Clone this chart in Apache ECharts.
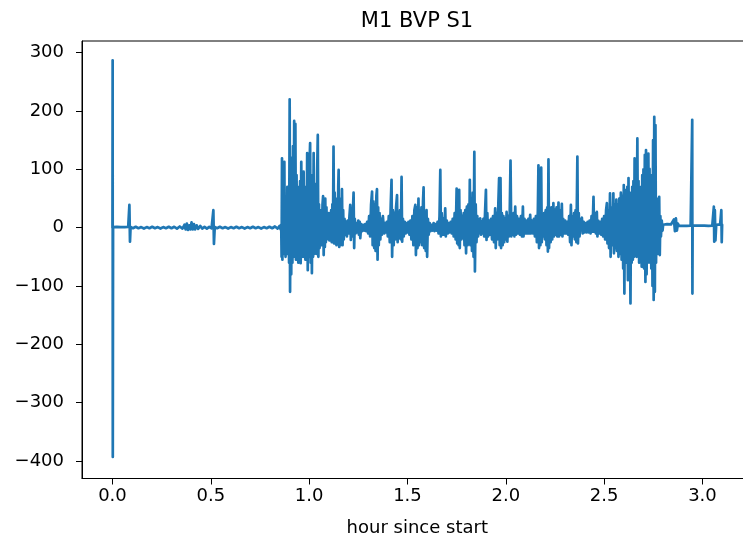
<!DOCTYPE html>
<html>
<head>
<meta charset="utf-8">
<script src="https://cdn.jsdelivr.net/npm/echarts@6/dist/echarts.min.js"></script>
<style>
html,body{margin:0;padding:0;background:#fff;overflow:hidden;}
#chart{width:743px;height:539px;}
</style>
</head>
<body>
<div id="chart"></div>
<script>
// [hour since start, BVP value]
const segStart = [
[0.000,0],[0.0008,287],[0.0016,-393],[0.003,1],[0.012,-1],[0.022,1.5],[0.032,-1],[0.042,1],[0.052,-1.5],[0.062,1],[0.072,-1],[0.080,1.5],[0.086,39],[0.089,-24],[0.092,1],[0.104,-1],[0.118,1.5],[0.132,-1],[0.146,1],[0.160,-1.5],[0.174,1],[0.188,-1],[0.202,1.5],[0.216,-1],[0.230,1],[0.244,-1.5],[0.258,1],[0.272,-1],[0.286,1.5],[0.300,-1],[0.314,1.5],[0.328,-1.5],[0.342,2],[0.356,-1.5],[0.366,5],[0.372,-3],[0.378,7],[0.384,-4],[0.390,4],[0.396,-3],[0.402,9],[0.408,-3],[0.414,6],[0.420,-3],[0.428,4],[0.436,-2],[0.446,3],[0.456,-1.5],[0.468,1.5],[0.480,-1.5],[0.492,1.5],[0.504,-1],[0.513,30],[0.516,-28],[0.520,1],[0.532,-1],[0.546,1.5],[0.560,-1],[0.574,1],[0.588,-1.5],[0.602,1],[0.616,-1],[0.630,1.5],[0.644,-1],[0.658,1],[0.672,-1.5],[0.686,1],[0.700,-1],[0.714,1.5],[0.728,-1],[0.742,1],[0.756,-1.5],[0.770,1],[0.784,-1],[0.798,1.5],[0.812,-1],[0.826,2],[0.840,-1.5],[0.850,3],[0.855,-3]
];
const burstA = [
[0.858,5],[0.860,-50],[0.862,119],[0.864,-55],[0.866,60],[0.868,-40],[0.870,80],[0.872,-45],[0.874,113],[0.876,-35],[0.878,50],[0.880,-50],[0.883,40],[0.886,-38],[0.889,70],[0.892,-45],[0.895,55],[0.898,-60],[0.901,220],[0.903,-110],[0.906,120],[0.909,-80],[0.912,100],[0.915,-60],[0.918,140],[0.921,-50],[0.924,183],[0.927,-45],[0.930,178],[0.933,-55],[0.936,90],[0.939,-40],[0.942,70],[0.945,-60],[0.948,55],[0.951,-40],[0.954,80],[0.957,-61],[0.960,113],[0.963,-45],[0.966,60],[0.969,-50],[0.972,96],[0.975,-40],[0.978,70],[0.981,-55],[0.984,60],[0.987,-45],[0.990,128],[0.993,-73],[0.996,80],[0.999,-50],[1.002,110],[1.005,145],[1.008,-60],[1.011,90],[1.014,-78],[1.017,70],[1.020,-50],[1.023,128],[1.026,-45],[1.029,60],[1.032,-40],[1.035,75],[1.038,-45],[1.041,100],[1.044,159],[1.047,-50],[1.050,40],[1.053,-35],[1.056,20],[1.059,-25],[1.062,30],[1.065,-30],[1.068,40],[1.071,54],[1.074,-47],[1.077,30],[1.080,-33],[1.082,50],[1.085,-25],[1.088,35],[1.091,-20],[1.094,15],[1.097,-18],[1.100,25],[1.103,-22],[1.106,20],[1.109,-20],[1.112,30],[1.115,-25],[1.118,40],[1.121,-20],[1.124,139],[1.127,-27],[1.130,60],[1.133,-25],[1.136,45],[1.139,-30],[1.142,50],[1.145,-28],[1.148,70],[1.150,99],[1.153,-33],[1.156,50],[1.159,-30],[1.162,40],[1.165,-25],[1.167,66],[1.170,-30],[1.173,30],[1.176,-20],[1.180,15],[1.184,-12],[1.188,10],[1.192,-15],[1.196,12],[1.200,-10],[1.205,20],[1.209,39],[1.212,-21],[1.215,15],[1.218,-15],[1.222,25],[1.226,60],[1.229,-35],[1.232,15],[1.236,-10],[1.240,8],[1.245,-8],[1.250,12],[1.253,-12],[1.257,10],[1.260,-18],[1.265,6],[1.270,-6],[1.275,5],[1.280,-5],[1.285,6],[1.290,-6],[1.295,10],[1.300,-10],[1.305,20],[1.310,-15],[1.315,40],[1.320,62],[1.323,-30],[1.327,45],[1.331,-35],[1.335,40],[1.338,-40],[1.342,55],[1.345,66],[1.348,-55],[1.351,35],[1.354,-30],[1.358,25],[1.362,-20],[1.366,15],[1.370,-12],[1.375,20],[1.379,22],[1.382,-10],[1.386,8],[1.390,-8]
];
const midA = [
[1.395,10],[1.400,-15],[1.405,20],[1.410,-25],[1.415,40],[1.419,82],[1.422,-50],[1.426,30],[1.430,-30],[1.434,25],[1.438,-20],[1.442,35],[1.447,56],[1.450,-25],[1.454,20],[1.458,-18],[1.462,30],[1.466,-20],[1.470,87],[1.473,-24],[1.477,15],[1.481,-15],[1.486,10],[1.490,-10],[1.495,8],[1.500,-8],[1.505,10],[1.510,-12],[1.515,12],[1.520,-20],[1.525,20],[1.530,-30],[1.535,30],[1.540,39],[1.543,-47],[1.547,35],[1.551,-35],[1.556,50],[1.559,-30],[1.563,30],[1.567,-25],[1.571,35],[1.575,-30],[1.579,45],[1.582,69],[1.585,-35],[1.589,25],[1.593,-40],[1.597,30],[1.600,-50],[1.604,15],[1.608,-12],[1.613,8],[1.618,-6],[1.623,5],[1.628,-5],[1.633,8],[1.638,-6],[1.643,6],[1.648,-5],[1.653,10],[1.658,-10],[1.663,20],[1.667,99],[1.670,-15],[1.674,25],[1.678,-12],[1.682,15],[1.686,-12],[1.692,33],[1.695,-15],[1.700,12],[1.705,-10],[1.710,8],[1.715,-8],[1.720,10],[1.725,-10],[1.730,15],[1.735,-15],[1.740,25],[1.745,-20],[1.750,67],[1.753,-27],[1.757,40],[1.760,-30],[1.763,65],[1.766,-35],[1.770,30],[1.774,-20],[1.778,20],[1.782,-18],[1.786,25],[1.790,-30],[1.794,30],[1.798,-44],[1.802,36],[1.806,-30],[1.810,40],[1.814,-25],[1.817,82],[1.820,-30],[1.824,50],[1.828,-40],[1.832,60],[1.836,-50],[1.840,130],[1.843,-75],[1.847,40],[1.851,-25],[1.855,20],[1.859,-15],[1.864,12],[1.870,16],[1.874,-12],[1.878,10],[1.882,-10],[1.886,15],[1.890,-15],[1.895,30],[1.899,65],[1.902,-21],[1.906,25],[1.910,-15],[1.915,12],[1.920,-12],[1.925,15],[1.930,-20],[1.935,20],[1.940,-25],[1.946,33],[1.949,-35],[1.953,25],[1.957,-20],[1.962,40],[1.966,85],[1.969,-30],[1.973,85],[1.976,-35],[1.980,25]
];
const midB = [
[1.984,-30],[1.988,20],[1.992,-25],[1.996,15],[2.000,-20],[2.004,27],[2.008,-24],[2.012,20],[2.016,-15],[2.020,25],[2.024,115],[2.028,-15],[2.032,20],[2.036,-12],[2.040,25],[2.044,-15],[2.048,36],[2.052,-12],[2.057,20],[2.062,-10],[2.067,15],[2.072,-12],[2.077,20],[2.082,-15],[2.087,36],[2.090,-15],[2.095,15],[2.100,-10],[2.105,12],[2.110,-10],[2.115,15],[2.120,-10],[2.124,22],[2.128,-10],[2.133,12],[2.138,-10],[2.143,15],[2.148,-15],[2.153,20],[2.158,-25],[2.163,30],[2.166,107],[2.169,-35],[2.173,30],[2.176,-30],[2.180,103],[2.183,-25],[2.187,20],[2.191,-15],[2.195,25],[2.199,-20],[2.203,30],[2.207,-30],[2.211,35],[2.214,-41],[2.217,117],[2.220,-35],[2.224,30],[2.228,-25],[2.232,35],[2.236,-20],[2.242,42],[2.245,-15],[2.250,30],[2.254,-12],[2.258,35],[2.262,-15],[2.268,43],[2.271,-15],[2.275,30],[2.279,-12],[2.285,41],[2.288,-15],[2.292,15],[2.297,-10],[2.302,12],[2.307,-10],[2.312,10],[2.317,-12],[2.322,20],[2.327,-25],[2.331,39],[2.334,-30],[2.338,20],[2.342,-15],[2.347,25],[2.351,-20],[2.355,30],[2.359,-25],[2.364,122],[2.367,-27],[2.371,25],[2.375,-15],[2.380,12],[2.387,17],[2.391,-10],[2.396,10],[2.401,-8],[2.406,8],[2.411,-8],[2.416,10],[2.421,-8],[2.426,12],[2.431,-10],[2.436,20],[2.441,-7],[2.446,53],[2.449,-7],[2.453,25],[2.458,-10],[2.463,27],[2.466,-15],[2.470,12],[2.475,-10],[2.480,10],[2.485,-12],[2.490,15],[2.495,-15],[2.500,20],[2.505,-20],[2.510,30],[2.514,42],[2.517,-27],[2.521,30],[2.525,-35],[2.530,59],[2.533,-50],[2.537,35],[2.541,-30],[2.547,59],[2.550,-44],[2.554,40],[2.558,-35]
];
const burstB = [
[2.562,48],[2.565,-40],[2.569,40],[2.573,-50],[2.577,50],[2.581,-45],[2.585,60],[2.589,-55],[2.593,55],[2.597,-70],[2.600,73],[2.603,-113],[2.606,60],[2.609,-60],[2.612,65],[2.615,-55],[2.618,70],[2.621,-90],[2.624,85],[2.627,-70],[2.630,60],[2.634,-130],[2.637,50],[2.640,-60],[2.643,70],[2.646,-55],[2.649,80],[2.652,-50],[2.655,119],[2.658,-45],[2.662,90],[2.665,-50],[2.669,153],[2.672,-45],[2.675,80],[2.678,-60],[2.681,60],[2.684,-50],[2.688,70],[2.691,-67],[2.694,90],[2.697,-55],[2.700,100],[2.703,-70],[2.707,125],[2.710,-93],[2.713,133],[2.716,-80],[2.719,110],[2.722,-60],[2.725,127],[2.728,-55],[2.731,101],[2.734,-60],[2.737,80],[2.740,-70],[2.743,90],[2.746,-100],[2.749,150],[2.752,-124],[2.755,190],[2.758,-110],[2.761,176],[2.764,-60],[2.768,50],[2.771,-45],[2.774,45],[2.777,-40],[2.780,53],[2.783,-47],[2.786,20],[2.789,-15],[2.793,12],[2.797,-5]
];
const segEnd = [
[2.800,5],[2.810,3.5],[2.820,6],[2.830,3],[2.840,5.5],[2.850,3.5],[2.855,14],[2.860,-6],[2.865,16],[2.870,-5],[2.875,7],[2.880,3.5],[2.890,5.5],[2.900,3],[2.910,5.5],[2.920,3],[2.930,5.5],[2.940,3.5],[2.947,4],[2.948,185],[2.949,-113],[2.950,4],[2.960,6],[2.970,3.5],[2.980,5.5],[2.990,3.5],[3.000,5.5],[3.010,3.5],[3.020,5.5],[3.030,3],[3.040,5.5],[3.050,3.5],[3.058,36],[3.060,-24],[3.063,30],[3.066,-22],[3.070,5],[3.080,3.5],[3.090,5.5],[3.096,30],[3.098,-25],[3.100,5]
];
const xTicks = [0.0, 0.5, 1.0, 1.5, 2.0, 2.5, 3.0];
const yTicks = [-400, -300, -200, -100, 0, 100, 200, 300];

const series = [].concat(segStart, burstA, midA, midB, burstB, segEnd);
const FONT = 'DejaVu Sans';

const chart = echarts.init(document.getElementById('chart'), null, {renderer: 'canvas'});
chart.setOption({
  animation: false,
  backgroundColor: '#fff',
  grid: {
    left: 82, top: 41, right: -9.6, bottom: 60.5,
    outerBoundsMode: 'none',
    show: true, borderColor: '#000', borderWidth: 1, containLabel: false
  },
  graphic: [{
    type: 'text', x: 417, y: 22,
    style: { text: 'M1 BVP S1', font: '21px "DejaVu Sans"', fill: '#000', textAlign: 'center', textVerticalAlign: 'middle' }
  }],
  xAxis: {
    type: 'value', min: -0.155, max: 3.255,
    name: 'hour since start', nameLocation: 'middle', nameGap: 41,
    nameTextStyle: { fontFamily: FONT, fontSize: 18, color: '#000' },
    splitLine: { show: false },
    axisLine: { show: true, onZero: false, lineStyle: { color: '#000', width: 1 } },
    axisTick: { show: true, inside: false, length: 6, customValues: xTicks, lineStyle: { color: '#000', width: 1 } },
    axisLabel: { customValues: xTicks, margin: 9, fontFamily: FONT, fontSize: 18, color: '#000',
      formatter: v => v.toFixed(1) }
  },
  yAxis: {
    type: 'value', min: -430, max: 320,
    splitLine: { show: false },
    axisLine: { show: true, onZero: false, lineStyle: { color: '#000', width: 1 } },
    axisTick: { show: true, inside: false, length: 6, customValues: yTicks, lineStyle: { color: '#000', width: 1 } },
    axisLabel: { customValues: yTicks, margin: 18, fontFamily: FONT, fontSize: 18, color: '#000',
      formatter: v => String(v).replace('-', '\u2212') }
  },
  series: [{
    type: 'line',
    data: series,
    showSymbol: false,
    symbol: 'none',
    sampling: null,
    clip: true,
    lineStyle: { color: '#1f77b4', width: 2.7, join: 'round', cap: 'round' }
  }]
});
</script>
</body>
</html>
